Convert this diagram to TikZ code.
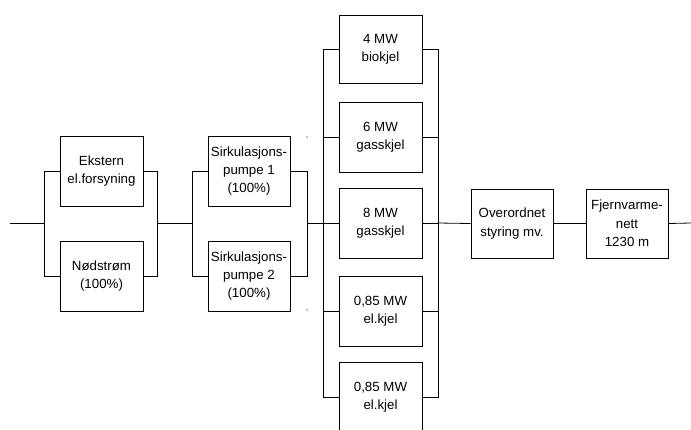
\documentclass[tikz,border=0pt]{standalone}
\usepackage{fontspec}
\setmainfont{Liberation Sans}
\begin{document}
\begin{tikzpicture}[x=1pt,y=-1pt,
  blk/.style={draw, line width=0.8pt, align=center, inner sep=0pt,
    minimum width=83pt, minimum height=70pt,
    font=\fontsize{13.3}{18.3}\selectfont},
  ln/.style={line width=0.8pt}]
\useasboundingbox (0,0) rectangle (691,429);
\clip (0,0) rectangle (691,429);
% blocks
\node[blk] (E) at (101.5,171) {Ekstern\\el.forsyning};
\node[blk] (N) at (101.5,276) {Nødstrøm\\(100\%)};
\node[blk, minimum width=82pt] (S1) at (249,171) {Sirkulasjons-\\pumpe 1\\(100\%)};
\node[blk, minimum width=82pt] (S2) at (249,276) {Sirkulasjons-\\pumpe 2\\(100\%)};
\node[blk, minimum height=68pt] (B1) at (380.5,49) {4 MW\\biokjel};
\node[blk] (B2) at (380.5,137) {6 MW\\gasskjel};
\node[blk] (B3) at (380.5,223) {8 MW\\gasskjel};
\node[blk] (B4) at (380.5,311) {0,85 MW\\el.kjel};
\node[blk] (B5) at (380.5,397) {0,85 MW\\el.kjel};
\node[blk, minimum width=82pt, minimum height=69pt] (O) at (512,223.5) {Overordnet\\styring mv.};
\node[blk, minimum width=82pt, minimum height=69pt] (F) at (627,223.5) {Fjernvarme-\\nett\\1230 m};
% bus coordinates
\coordinate (s) at (10,223);
\coordinate (b1l) at (44,223);
\coordinate (b1r) at (157,223);
\coordinate (b2l) at (192,223);
\coordinate (b2r) at (307,223);
\coordinate (b3l) at (323,223);
\coordinate (b3r) at (438,223);
\coordinate (e) at (691,223);
% connectors
\draw[ln] (s) -- (b1l);
\draw[ln] (E.west) -| (b1l);
\draw[ln] (N.west) -| (b1l);
\draw[ln] (E.east) -| (b1r);
\draw[ln] (N.east) -| (b1r);
\draw[ln] (b1r) -- (b2l);
\draw[ln] (S1.west) -| (b2l);
\draw[ln] (S2.west) -| (b2l);
\draw[ln] (S1.east) -| (b2r);
\draw[ln] (S2.east) -| (b2r);
\draw[ln] (b2r) -- (b3l);
\foreach \b in {B1,B2,B3,B4,B5}{
  \draw[ln] (\b.west) -| (b3l);
  \draw[ln] (\b.east) -| (b3r);
}
\draw[ln] (b3r) -- (O.west);
\draw[ln] (O.east) -- (F.west);
\draw[ln] (F.east) -- (e);
% small marks
\coordinate (d1) at (307,137);
\coordinate (d2) at (307,310);
\fill (d1) circle (0.7);
\fill (d2) circle (0.7);
\end{tikzpicture}
\end{document}
